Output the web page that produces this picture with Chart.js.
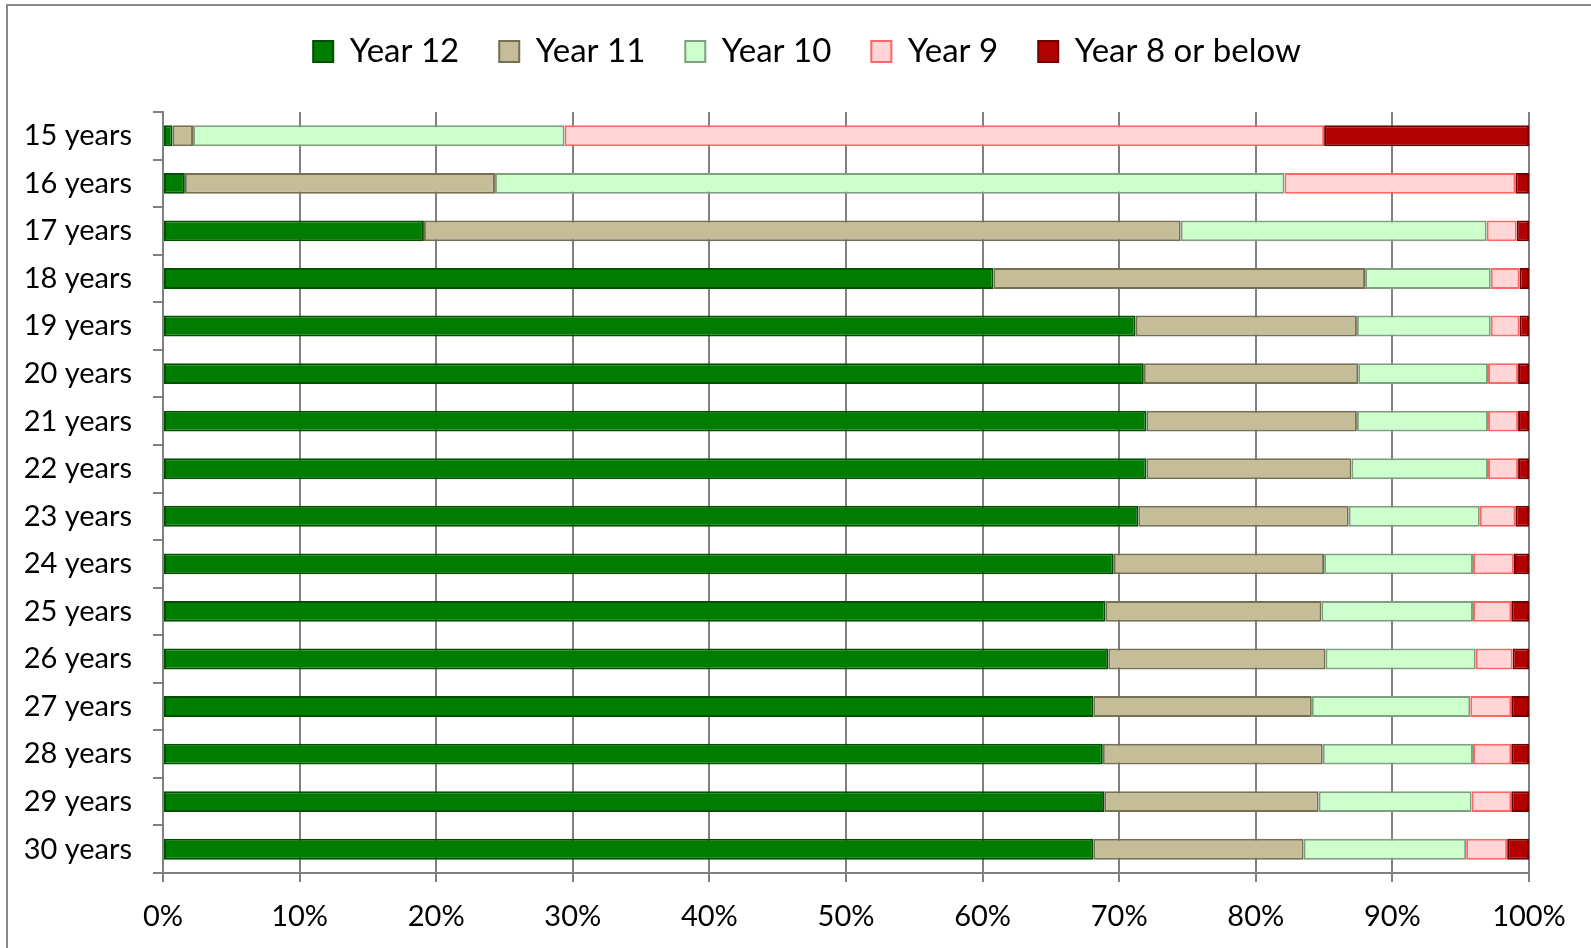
<!DOCTYPE html>
<html>
<head>
<meta charset="utf-8">
<script src="https://cdn.jsdelivr.net/npm/chart.js@4.4.0/dist/chart.umd.min.js"></script>
<style>
	html, body { margin: 0; padding: 0; background: #fff; overflow: hidden; }
	.frame {
		position: absolute; left: 6px; top: 4px; width: 2000px; height: 2000px;
		border-left: 2px solid #8a8a8a; border-top: 2px solid #8a8a8a;
	}
	.chart-box { position: absolute; left: 0; top: 0; width: 1591px; height: 948px; }
</style>
</head>
<body>
<div class="frame"></div>
<div class="chart-box"><canvas id="edu-chart"></canvas></div>
<script>
// share of each age group by highest school year completed (%)
const ages = ['15 years', '16 years', '17 years', '18 years', '19 years', '20 years', '21 years', '22 years',
	'23 years', '24 years', '25 years', '26 years', '27 years', '28 years', '29 years', '30 years'];

const year12 = [0.7, 1.6, 19.1, 60.8, 71.2, 71.8, 72.0, 72.0, 71.4, 69.6, 69.0, 69.2, 68.1, 68.8, 68.9, 68.1];
const year11 = [1.5, 22.7, 55.4, 27.2, 16.2, 15.7, 15.4, 15.0, 15.4, 15.4, 15.8, 15.9, 16.0, 16.1, 15.7, 15.4];
const year10 = [27.2, 57.8, 22.4, 9.2, 9.8, 9.5, 9.6, 10.0, 9.6, 10.9, 11.1, 11.0, 11.6, 11.0, 11.2, 11.9];
const year9 = [55.6, 16.9, 2.2, 2.1, 2.1, 2.2, 2.2, 2.2, 2.6, 3.0, 2.8, 2.7, 3.0, 2.8, 2.9, 3.0];
const year8 = [15.0, 1.0, 0.9, 0.7, 0.7, 0.8, 0.8, 0.8, 1.0, 1.1, 1.3, 1.2, 1.3, 1.3, 1.3, 1.6];

const xTicks = [0, 10, 20, 30, 40, 50, 60, 70, 80, 90, 100];

function series(label, data, fill, edge) {
	return {
		label: label,
		data: data,
		backgroundColor: fill,
		borderColor: edge,
		borderWidth: 2,
		borderSkipped: false,
		barPercentage: 0.44,
		categoryPercentage: 1
	};
}

// fixed legend block height, and legend centred a bit right of the canvas middle like the original
const legendTweak = {
	id: 'legendTweak',
	beforeInit(chart) {
		const fit = chart.legend.fit;
		chart.legend.fit = function() {
			fit.bind(chart.legend)();
			this.height = 117;
		};
	},
	afterLayout(chart) {
		const lg = chart.legend;
		lg.left = 85;
		lg.width = lg.right - lg.left;
	}
};

const ctx = document.getElementById('edu-chart').getContext('2d');
new Chart(ctx, {
	type: 'bar',
	data: {
		labels: ages,
		datasets: [
			series('Year 12', year12, '#007d00', '#005000'),
			series('Year 11', year11, '#c4bd97', '#767052'),
			series('Year 10', year10, '#ccffcc', '#7fa07f'),
			series('Year 9', year9, '#ffd5d5', '#ff6666'),
			series('Year 8 or below', year8, '#b30000', '#6e0000')
		]
	},
	plugins: [legendTweak],
	options: {
		indexAxis: 'y',
		responsive: true,
		maintainAspectRatio: false,
		animation: false,
		layout: { padding: { left: 0, right: 62, top: -5, bottom: 0 } },
		plugins: {
			tooltip: { enabled: false },
			legend: {
				position: 'top',
				labels: {
					boxWidth: 20,
					boxHeight: 21,
					padding: 40,
					color: '#000',
					font: { family: 'Lato', size: 33 }
				}
			}
		},
		scales: {
			x: {
				stacked: true,
				min: 0,
				max: 100,
				afterBuildTicks: (scale) => { scale.ticks = xTicks.map(v => ({ value: v })); },
				afterFit: (scale) => { scale.height = 75; },
				grid: { color: '#808080', lineWidth: 2, tickLength: 9, drawTicks: true },
				border: { color: '#808080', width: 2 },
				ticks: {
					color: '#000',
					padding: 17,
					font: { family: 'Lato', size: 29 },
					callback: (v) => v + '%'
				}
			},
			y: {
				stacked: true,
				afterFit: (scale) => { scale.width = 163; },
				grid: { drawOnChartArea: false, drawTicks: true, tickLength: 10, offset: true, color: '#808080', lineWidth: 2 },
				border: { color: '#808080', width: 2 },
				ticks: {
					color: '#000',
					padding: 21,
					font: { family: 'Lato', size: 29 }
				}
			}
		}
	}
});
</script>
</body>
</html>
